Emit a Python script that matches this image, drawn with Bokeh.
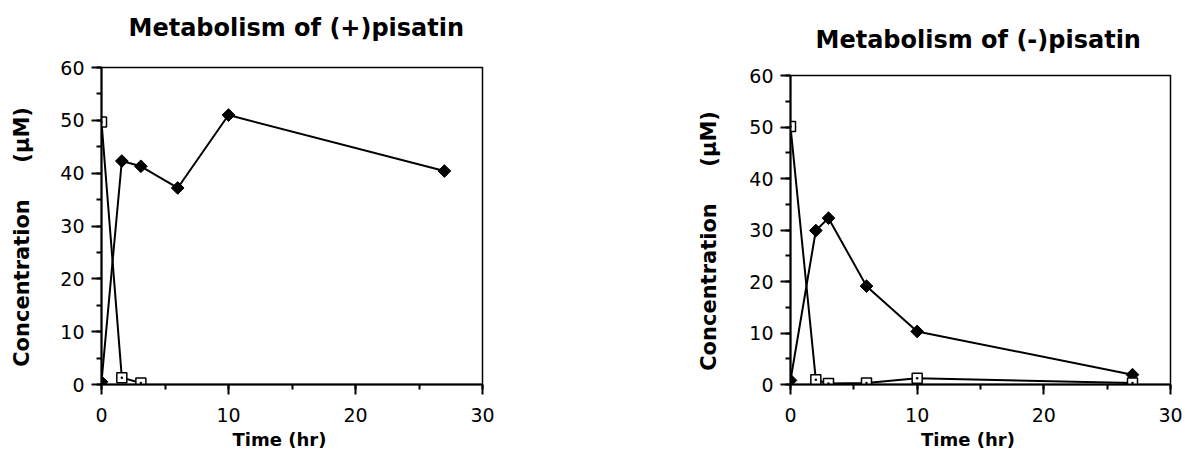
import math
from bokeh.plotting import figure
from bokeh.layouts import row, column
from bokeh.models import SingleIntervalTicker, Range1d, Spacer, Title
from bokeh.embed import file_html
from bokeh.resources import INLINE

# ---- data ----
titles = ["Metabolism of (+)pisatin", "Metabolism of (-)pisatin"]
x_label = "Time (hr)\u00a0\u00a0\u00a0\u00a0"
y_label = "Concentration\u00a0\u00a0\u00a0\u00a0\u00a0(\u00b5M)\u00a0\u00a0\u00a0"

# (+)pisatin panel
plus_prod_t = [0, 1.6, 3.1, 6.0, 10, 27]
plus_prod_c = [0.5, 42.3, 41.3, 37.2, 51.0, 40.4]
plus_sub_t = [0, 1.6, 3.1]
plus_sub_c = [49.7, 1.3, 0.3]

# (-)pisatin panel
minus_prod_t = [0, 2, 3, 6, 10, 27]
minus_prod_c = [0.8, 29.9, 32.3, 19.1, 10.3, 1.9]
minus_sub_t = [0, 2, 3, 6, 10, 27]
minus_sub_c = [50.1, 0.9, 0.2, 0.3, 1.2, 0.3]

FONT = "DejaVu Sans"


def make(title, pt, pc, st, sc, width, height, bl, br, bt, bb, toff, tstand, gap, ystand):
    p = figure(width=width, height=height, output_backend="svg", toolbar_location=None,
               x_range=Range1d(0, 30), y_range=Range1d(0, 60),
               min_border_left=bl, min_border_right=br, min_border_top=bt, min_border_bottom=bb)
    p.background_fill_color = "white"
    p.border_fill_color = "white"
    p.xgrid.visible = False
    p.ygrid.visible = False
    p.outline_line_color = "black"
    p.outline_line_width = 1.5

    # blank spacer between frame and title (lifts the title higher)
    p.add_layout(Title(text="\u00a0", text_font_size="1px", standoff=gap), "above")

    p.title.text = title
    p.title.align = "left"
    p.title.offset = toff
    p.title.standoff = tstand
    p.title.text_font = FONT
    p.title.text_font_size = "24px"
    p.title.text_font_style = "bold"
    p.title.text_color = "black"

    p.xaxis.ticker = SingleIntervalTicker(interval=10, num_minor_ticks=2)
    p.yaxis.ticker = SingleIntervalTicker(interval=10, num_minor_ticks=2)
    for ax in (p.xaxis, p.yaxis):
        ax.axis_line_width = 2
        ax.axis_line_color = "black"
        ax.major_tick_out = 10
        ax.major_tick_in = 0
        ax.minor_tick_out = 5
        ax.minor_tick_in = 0
        ax.major_tick_line_width = 2
        ax.minor_tick_line_width = 2
        ax.major_tick_line_color = "black"
        ax.minor_tick_line_color = "black"
        ax.major_label_text_font = FONT
        ax.major_label_text_font_size = "19px"
        ax.major_label_text_color = "black"
        ax.axis_label_text_font = FONT
        ax.axis_label_text_font_style = "bold"
        ax.axis_label_text_color = "black"
    p.xaxis.axis_label = x_label
    p.xaxis.axis_label_text_font_size = "18px"
    p.xaxis.major_label_standoff = 13
    p.xaxis.axis_label_standoff = 4
    p.yaxis.axis_label = y_label
    p.yaxis.axis_label_text_font_size = "21px"
    p.yaxis.major_label_standoff = 7
    p.yaxis.axis_label_standoff = ystand

    p.line(pt, pc, line_color="black", line_width=2)
    p.line(st, sc, line_color="black", line_width=2)
    p.scatter(pt, pc, marker="square", angle=math.pi / 4, size=9,
              fill_color="black", line_color="black", line_width=1)
    p.scatter(st, sc, marker="square_dot", size=10,
              fill_color="white", line_color="black", line_width=1.5)
    return p


# left: frame 101..482 x 67..386 ; right: frame 790..1170 x 75..389
p1 = make(titles[0], plus_prod_t, plus_prod_c, plus_sub_t, plus_sub_c,
          width=599, height=452, bl=101, br=117, bt=67, bb=66,
          toff=27, tstand=20, gap=13, ystand=23)
p2 = make(titles[1], minus_prod_t, minus_prod_c, minus_sub_t, minus_sub_c,
          width=584, height=444, bl=191, br=13, bt=67, bb=63,
          toff=25, tstand=20, gap=9, ystand=25)

layout = row(p1, column(Spacer(width=584, height=8), p2))
open("out.html", "w").write(file_html(layout, INLINE))
